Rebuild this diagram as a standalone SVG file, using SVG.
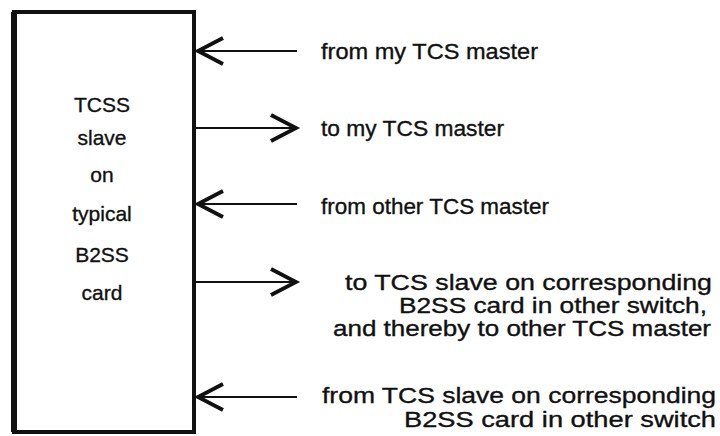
<svg xmlns="http://www.w3.org/2000/svg" width="720" height="436" viewBox="0 0 720 436">
<defs>
<style>
.lbl{font-family:"Liberation Sans",Arial,Helvetica,sans-serif;font-size:22px;fill:#111;stroke:#111;stroke-width:0.35}
.box{font-family:"Liberation Sans",Arial,Helvetica,sans-serif;font-size:21px;fill:#111;stroke:#111;stroke-width:0.35;text-anchor:middle}
.conn{stroke:#111;stroke-width:2.2;fill:none}
</style>
<marker id="chev" markerUnits="userSpaceOnUse" markerWidth="40" markerHeight="40" viewBox="-30 -20 40 40" refX="0" refY="0" orient="auto">
<path d="M-25,-13 L0,0 L-25,13" fill="none" stroke="#111" stroke-width="3.8" stroke-linejoin="miter"/>
</marker>
</defs>
<rect width="720" height="436" fill="#fff"/>
<g id="slave-card">
<rect x="14" y="12" width="180" height="420" fill="none" stroke="#111" stroke-width="4"/>
<line x1="14" y1="12" x2="14" y2="432" stroke="#111" stroke-width="6"/>
<text class="box" x="102" y="112">TCSS</text>
<text class="box" x="102" y="145">slave</text>
<text class="box" x="102" y="182">on</text>
<text class="box" x="102" y="221">typical</text>
<text class="box" x="102" y="262">B2SS</text>
<text class="box" x="102" y="300">card</text>
</g>
<g id="connectors">
<line class="conn" x1="297" y1="51" x2="198" y2="51" marker-end="url(#chev)"/>
<line class="conn" x1="196" y1="128" x2="296" y2="128" marker-end="url(#chev)"/>
<line class="conn" x1="297" y1="204" x2="198" y2="204" marker-end="url(#chev)"/>
<line class="conn" x1="196" y1="282" x2="296" y2="282" marker-end="url(#chev)"/>
<line class="conn" x1="297" y1="397" x2="198" y2="397" marker-end="url(#chev)"/>
</g>
<g id="label-from-my-master">
<text class="lbl" x="321" y="59" textLength="217" lengthAdjust="spacingAndGlyphs">from my TCS master</text>
</g>
<g id="label-to-my-master">
<text class="lbl" x="321" y="136" textLength="183" lengthAdjust="spacingAndGlyphs">to my TCS master</text>
</g>
<g id="label-from-other-master">
<text class="lbl" x="321" y="214" textLength="228" lengthAdjust="spacingAndGlyphs">from other TCS master</text>
</g>
<g id="label-to-other-slave" text-anchor="end">
<text class="lbl" x="712" y="290" textLength="367" lengthAdjust="spacingAndGlyphs">to TCS slave on corresponding</text>
<text class="lbl" x="707" y="313" textLength="308" lengthAdjust="spacingAndGlyphs">B2SS card in other switch,</text>
<text class="lbl" x="711" y="336" textLength="378" lengthAdjust="spacingAndGlyphs">and thereby to other TCS master</text>
</g>
<g id="label-from-other-slave" text-anchor="end">
<text class="lbl" x="716" y="403" textLength="394" lengthAdjust="spacingAndGlyphs">from TCS slave on corresponding</text>
<text class="lbl" x="716" y="427" textLength="312" lengthAdjust="spacingAndGlyphs">B2SS card in other switch</text>
</g>
</svg>
